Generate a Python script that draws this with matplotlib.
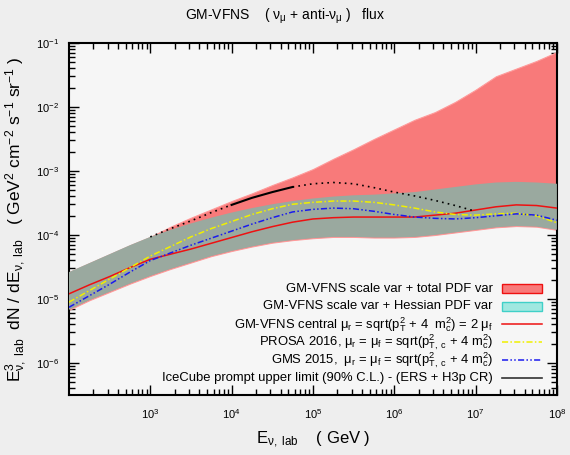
import numpy as np
import matplotlib
matplotlib.use('Agg')
import matplotlib.pyplot as plt
from matplotlib.patches import Rectangle
from matplotlib.ticker import FixedLocator, LogLocator, LogFormatterMathtext, NullFormatter

plt.rcParams['font.family'] = ['Liberation Sans', 'DejaVu Sans']
plt.rcParams['mathtext.fontset'] = 'custom'
plt.rcParams['mathtext.rm'] = 'Liberation Sans'
plt.rcParams['mathtext.it'] = 'Liberation Sans'
plt.rcParams['mathtext.default'] = 'regular'

# energia (log10 GeV) dan fluks (log10 GeV^2 cm^-2 s^-1 sr^-1)
log_e = [2.0, 2.25, 2.5, 2.75, 3.0, 3.25, 3.5, 3.75, 4.0, 4.25, 4.5, 4.75, 5.0,
         5.25, 5.5, 5.75, 6.0, 6.25, 6.5, 6.75, 7.0, 7.25, 7.5, 7.75, 8.0]

total_hi = [-4.58, -4.44, -4.30, -4.16, -4.03, -3.87, -3.73, -3.60, -3.47, -3.35, -3.22, -3.10, -2.97,
            -2.81, -2.66, -2.50, -2.35, -2.20, -2.08, -1.92, -1.73, -1.52, -1.40, -1.28, -1.14]
hess_hi = [-4.58, -4.44, -4.30, -4.16, -4.03, -3.92, -3.82, -3.73, -3.65, -3.58, -3.52, -3.47, -3.43,
           -3.40, -3.38, -3.37, -3.35, -3.33, -3.29, -3.25, -3.21, -3.18, -3.17, -3.18, -3.20]
band_lo = [-5.17, -5.02, -4.89, -4.76, -4.64, -4.53, -4.43, -4.33, -4.25, -4.18, -4.12, -4.08, -4.05,
           -4.03, -4.03, -4.04, -4.04, -4.03, -4.00, -3.96, -3.92, -3.88, -3.86, -3.87, -3.92]
central = [-4.92, -4.78, -4.65, -4.51, -4.38, -4.30, -4.22, -4.13, -4.04, -3.95, -3.87, -3.80, -3.75,
           -3.73, -3.72, -3.72, -3.72, -3.72, -3.69, -3.66, -3.61, -3.56, -3.53, -3.54, -3.58]
prosa = [-5.05, -4.87, -4.69, -4.51, -4.33, -4.18, -4.03, -3.90, -3.79, -3.68, -3.59, -3.52, -3.49,
         -3.47, -3.47, -3.49, -3.53, -3.58, -3.64, -3.68, -3.69, -3.67, -3.66, -3.70, -3.81]
gms = [-5.13, -4.95, -4.77, -4.58, -4.40, -4.28, -4.16, -4.05, -3.94, -3.83, -3.73, -3.64, -3.60,
       -3.58, -3.59, -3.63, -3.68, -3.72, -3.74, -3.75, -3.73, -3.70, -3.67, -3.69, -3.77]

# batas atas IceCube: bagian putus-putus dan bagian utuh
ic_log_e = [3.0, 3.25, 3.5, 3.75, 4.0, 4.25, 4.5, 4.75, 5.0, 5.25, 5.5, 5.75, 6.0, 6.25, 6.5, 6.75, 7.0]
ic_flux = [-4.03, -3.90, -3.78, -3.65, -3.53, -3.42, -3.33, -3.25, -3.20, -3.18, -3.20, -3.26, -3.33,
           -3.39, -3.46, -3.54, -3.63]
ic_solid_from, ic_solid_to = 4, 7   # indeks bagian garis utuh

x_ticks = [1e3, 1e4, 1e5, 1e6, 1e7, 1e8]
y_lim = (10 ** -6.5, 1e-1)

labels = [
    'GM-VFNS scale var + total PDF var',
    'GM-VFNS scale var + Hessian PDF var',
    r'GM-VFNS central μ$_r$ = sqrt(p$_T^2$ + 4  m$_c^2$) = 2 μ$_f$',
    r'PROSA 2016, μ$_r$ = μ$_f$ = sqrt(p$_{T,\ c}^2$ + 4 m$_c^2$)',
    r'GMS 2015,  μ$_r$ = μ$_f$ = sqrt(p$_{T,\ c}^2$ + 4 m$_c^2$)',
    'IceCube prompt upper limit (90% C.L.) - (ERS + H3p CR)',
]

RED_FILL = '#f87a7a'
GREY_FILL = '#9aa99f'
DASHDOT = (0, (4, 1.5, 1, 1.5))
DASHDOTDOT = (0, (4, 1.5, 1, 1.5, 1, 1.5))

E = 10 ** np.array(log_e)
f = lambda v: 10 ** np.array(v)

fig = plt.figure(figsize=(5.7, 4.55), dpi=100, facecolor='#eeeeee')
ax = fig.add_axes([0.121, 0.132, 0.856, 0.7735], facecolor='#f6f6f6')

ax.fill_between(E, f(band_lo), f(total_hi), facecolor=RED_FILL, edgecolor='#ff9a9a', lw=0.8, zorder=2)
ax.fill_between(E, f(band_lo), f(hess_hi), facecolor=GREY_FILL, edgecolor='none', zorder=3)
ax.plot(E, f(central), color='#ee1111', lw=1.1, zorder=5)
ax.plot(E, f(prosa), color='#f0f000', lw=1.1, ls=DASHDOT, zorder=5)
ax.plot(E, f(gms), color='#1a1aee', lw=1.1, ls=DASHDOTDOT, zorder=5)

ic_E = 10 ** np.array(ic_log_e)
ax.plot(ic_E[:ic_solid_from + 1], f(ic_flux[:ic_solid_from + 1]), color='black', lw=1.2, ls=(0, (1, 2.5)), zorder=6)
ax.plot(ic_E[ic_solid_from:ic_solid_to + 1], f(ic_flux[ic_solid_from:ic_solid_to + 1]), color='black', lw=1.5, zorder=6)
ax.plot(ic_E[ic_solid_to:], f(ic_flux[ic_solid_to:]), color='black', lw=1.2, ls=(0, (1, 2.5)), zorder=6)

ax.set_xscale('log')
ax.set_yscale('log')
ax.set_xlim(1e2, 1e8)
ax.set_ylim(*y_lim)

ax.xaxis.set_major_locator(FixedLocator(x_ticks))
ax.xaxis.set_major_formatter(LogFormatterMathtext())
ax.xaxis.set_minor_locator(LogLocator(base=10, subs=np.arange(2, 10), numticks=20))
ax.xaxis.set_minor_formatter(NullFormatter())
ax.yaxis.set_major_locator(LogLocator(base=10, numticks=20))
ax.yaxis.set_minor_locator(LogLocator(base=10, subs=np.arange(2, 10), numticks=20))
ax.yaxis.set_minor_formatter(NullFormatter())
ax.tick_params(which='both', direction='in', top=True, right=True, width=1, labelsize=8)
ax.tick_params(which='major', length=7)
ax.tick_params(which='minor', length=4)
ax.tick_params(axis='x', pad=9)
ax.tick_params(axis='y', pad=7)
for s in ax.spines.values():
    s.set_linewidth(1.5)

fig.suptitle(r'GM-VFNS    ( ν$_μ$ + anti-ν$_μ$ )   flux', y=0.985, fontsize=10)
ax.set_xlabel(r'E$_{ν,\ lab}$    ( GeV )', fontsize=12, labelpad=6)
ax.set_ylabel(r'E$^3_{ν,\ lab}$  dN / dE$_{ν,\ lab}$   ( GeV$^2$ cm$^{-2}$ s$^{-1}$ sr$^{-1}$ )',
              fontsize=12.5, labelpad=5)

# legenda manual ala gnuplot: teks rata kanan, simbol di kanan, jarak baris seragam
row_top, row_step = 0.302, 0.0506
text_x, h_x0, h_x1 = 0.869, 0.888, 0.970
line_styles = [None, None,
               dict(color='#ee1111', lw=1.1),
               dict(color='#f0f000', lw=1.1, ls=DASHDOT),
               dict(color='#1a1aee', lw=1.1, ls=DASHDOTDOT),
               dict(color='#333333', lw=1.2)]
box_styles = [dict(facecolor=RED_FILL, edgecolor='#ee1111'),
              dict(facecolor='#a0e8e0', edgecolor='#40d0c8')]
for i, lab in enumerate(labels):
    yy = row_top - i * row_step
    ax.text(text_x, yy, lab, transform=ax.transAxes, ha='right', va='center', fontsize=9.4, zorder=10)
    if i < 2:
        ax.add_patch(Rectangle((h_x0, yy - 0.012), h_x1 - h_x0, 0.024, transform=ax.transAxes,
                               lw=1, zorder=10, **box_styles[i]))
    else:
        ax.plot([h_x0, h_x1], [yy, yy], transform=ax.transAxes, zorder=10, **line_styles[i])

fig.savefig('out.png', dpi=100, facecolor=fig.get_facecolor())
